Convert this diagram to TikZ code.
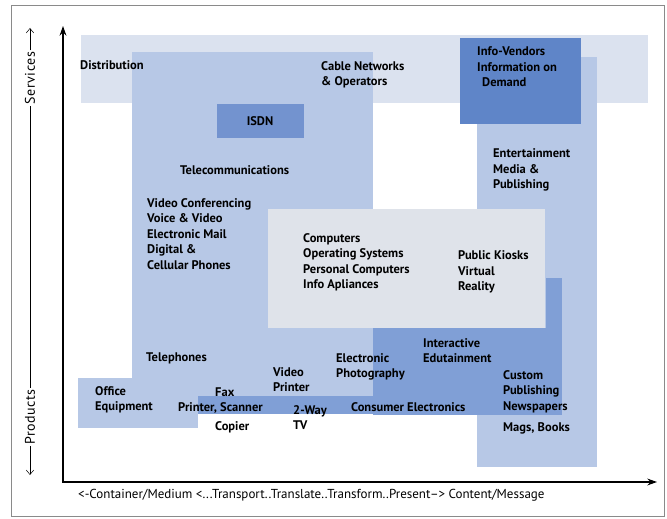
\documentclass[tikz,border=0pt]{standalone}
\usepackage{fontspec}
\setmainfont{PT Sans}
\usetikzlibrary{arrows.meta}
\definecolor{bandpale}{HTML}{DBE2EF}
\definecolor{boxpale}{HTML}{DFE3EA}
\definecolor{boxmid}{HTML}{B7C8E6}
\definecolor{boxdeep}{HTML}{809FD6}
\definecolor{boxdark}{HTML}{5F85C8}
\definecolor{isdnblue}{HTML}{7393CF}
\definecolor{framegray}{HTML}{8A8A8A}
\tikzset{
    tag/.style   ={font=\bfseries\fontsize{12.5}{15.5}\selectfont, align=left,
                   anchor=west, inner sep=0pt},
    axis/.style  ={line width=1.3pt, {Stealth[length=3.4mm, width=2.4mm]}-{Stealth[length=3.4mm, width=2.4mm]}},
    axlbl/.style ={font=\fontsize{13}{15}\selectfont, inner sep=1pt},
    sidelbl/.style={font=\fontsize{14}{16}\selectfont\addfontfeatures{LetterSpace=4}, inner sep=1pt, rotate=90},
    guide/.style ={line width=0.5pt},
    guidetip/.style={guide, -{Straight Barb[length=1.6mm, width=2.6mm]}}
}

\begin{document}
\begin{tikzpicture}[x=1pt, y=-1pt]
  \useasboundingbox (0,0) rectangle (667,519);
  \draw[framegray, line width=0.9pt] (11,5) rectangle (664,516);

  % shaded areas
  \fill[bandpale] (81,35) rectangle (648,103);
  \fill[boxmid] (477,57) rectangle (597,467);
  \fill[boxmid] (132,52) rectangle (373,397);
  \fill[boxmid] (78,378) rectangle (198,428);
  \fill[boxdark] (460,38) rectangle (581,124);
  \fill[isdnblue] (217,104) rectangle (304,138);
  \fill[boxpale] (268,209) rectangle (545,328);
  \fill[boxdeep] (373,328) rectangle (562,415);
  \fill[boxdeep] (546,278) rectangle (562,328);
  \fill[boxdeep] (198,396) rectangle (477,414);

  % axes
  \coordinate (origin) at (63,482);
  \coordinate (ytip)   at (63,26);
  \coordinate (xtip)   at (657,482);
  \draw[axis] (ytip) -- (origin) -- (xtip);

  \node[sidelbl] (prod) at (30,417) {Products};
  \node[sidelbl] (serv) at (30,78)  {Services};
  \coordinate (prodend) at (30,475);
  \coordinate (servend) at (30,28);
  \draw[guidetip] (prod.west) -- (prodend);
  \draw[guide] (prod.east) -- (serv.west);
  \draw[guidetip] (serv.east) -- (servend);

  \node[axlbl, anchor=west] (xlbl) at (77,495)
       {<-Container/Medium <...Transport..Translate..Transform..Present--> Content/Message};

  % labels
  \node[tag] (dist)   at (80,65)    {Distribution};
  \node[tag] (cable)  at (321,75)   {Cable Networks\\\& Operators};
  \node[tag] (vend)   at (477,67)   {Info-Vendors\\Information on\\\hspace{0.4em}Demand};
  \node[tag, anchor=center] (isdn) at (260,121) {ISDN};
  \node[tag] (tele)   at (180,170)  {Telecommunications};
  \node[tag] (video)  at (147,234)  {Video Conferencing\\Voice \& Video\\Electronic Mail\\Digital \&\\Cellular Phones};
  \node[tag] (ent)    at (493,170)  {Entertainment\\Media \&\\Publishing};
  \node[tag] (comp)   at (303,262.5){Computers\\Operating Systems\\Personal Computers\\Info Apliances};
  \node[tag] (kiosk)  at (458,272)  {Public Kiosks\\Virtual\\Reality};
  \node[tag] (phones) at (146,358)  {Telephones};
  \node[tag] (vprint) at (273,379.5){Video\\Printer};
  \node[tag] (office) at (95,400)   {Office\\Equipment};
  \node[tag] (fax)    at (215,392)  {Fax};
  \node[tag] (pscan)  at (178,408)  {Printer, Scanner};
  \node[tag] (copier) at (215,427)  {Copier};
  \node[tag] (twoway) at (293,417.5){2-Way\\TV};
  \node[tag] (photo)  at (336,367)  {Electronic\\Photography};
  \node[tag] (inter)  at (423,350.5){Interactive\\Edutainment};
  \node[tag] (cons)   at (351,407)  {Consumer Electronics};
  \node[tag] (custom) at (503,391.5){Custom\\Publishing\\Newspapers};
  \node[tag] (mags)   at (503,428)  {Mags, Books};
\end{tikzpicture}
\end{document}
